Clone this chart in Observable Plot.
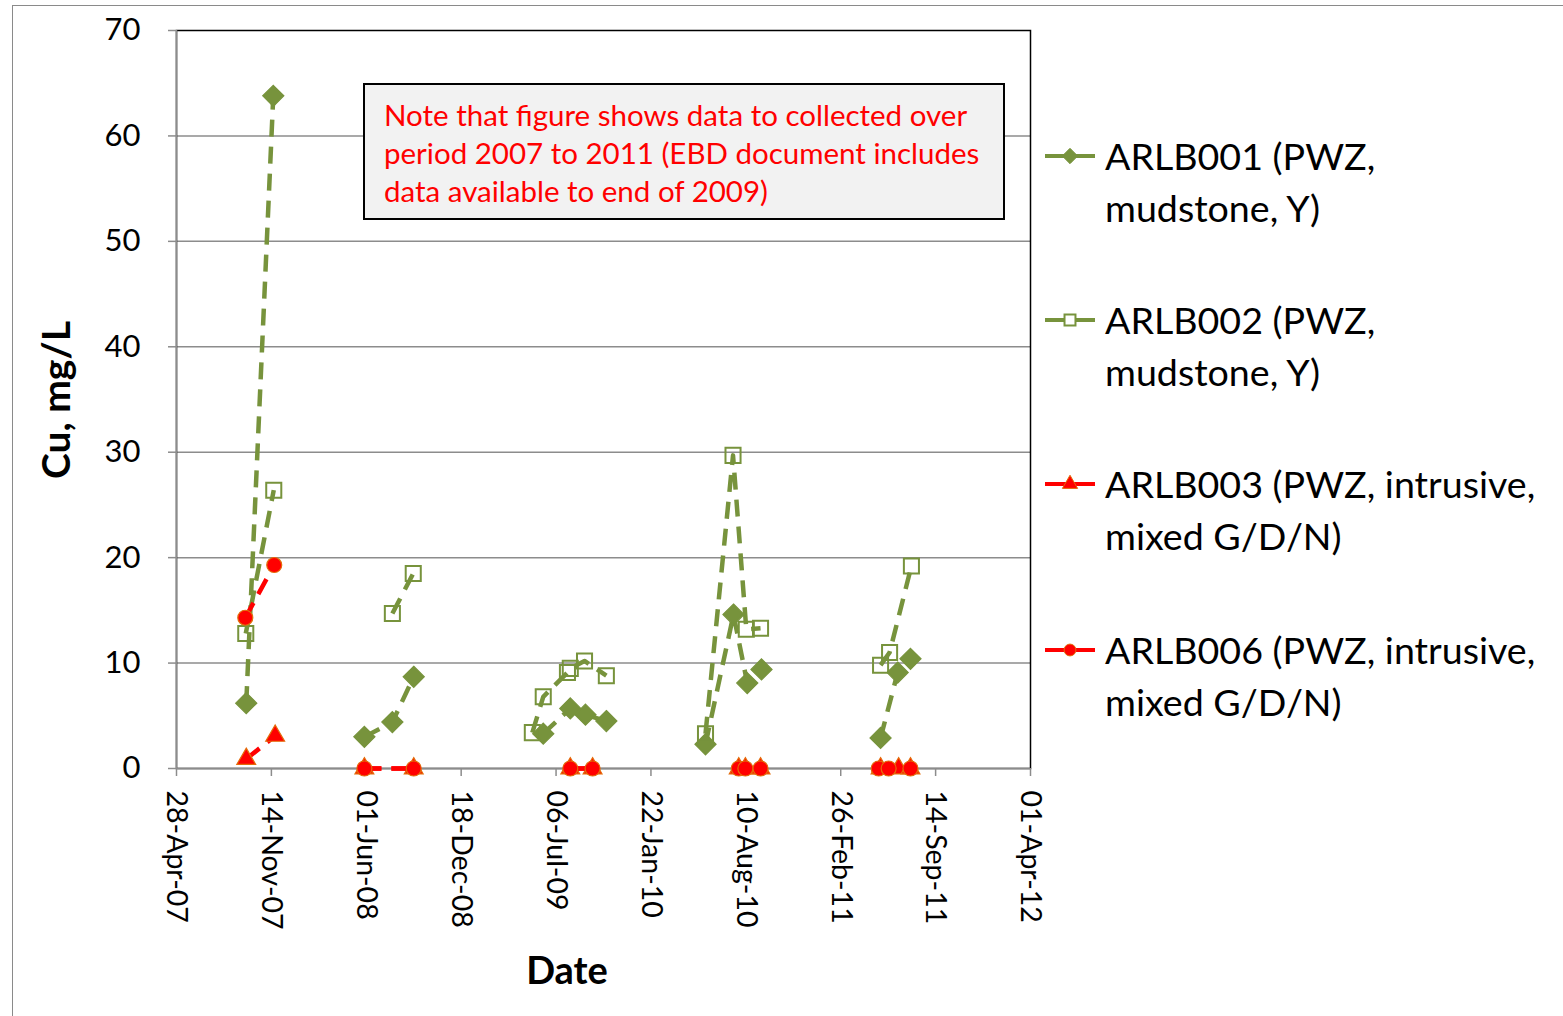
<!DOCTYPE html>
<html>
<head>
<meta charset="utf-8">
<script src="https://cdn.jsdelivr.net/npm/d3@7"></script>
<script src="https://cdn.jsdelivr.net/npm/@observablehq/plot@0.6"></script>
<style>
  html, body { margin: 0; padding: 0; background: #fff; }
  body { width: 1563px; height: 1016px; position: relative; overflow: hidden; font-family: Lato, "Open Sans", sans-serif; }
  #outer { position: absolute; left: 12px; top: 5px; width: 1600px; height: 1100px; border-left: 1.5px solid #8a8a8a; border-top: 1.5px solid #8a8a8a; }
  #chart { position: absolute; left: 0; top: 0; }
  .note { position: absolute; left: 363px; top: 83px; width: 642px; height: 137px; box-sizing: border-box;
          background: #f2f2f2; border: 2px solid #000; color: #ff0000; font-size: 29.5px; line-height: 38px;
          padding: 11px 0 0 19px; white-space: nowrap; }
  .ytitle { position: absolute; left: 55px; top: 400px; transform: translate(-50%, -50%) rotate(-90deg);
            font-weight: bold; font-size: 39px; white-space: nowrap; color: #000; }
  .xtitle { position: absolute; left: 567px; top: 969px; transform: translate(-50%, -50%);
            font-weight: bold; font-size: 38px; color: #000; }
  .legend { position: absolute; left: 1042px; top: 0; }
  .item { position: absolute; left: 0; width: 520px; }
  .item svg { position: absolute; left: 0; top: 0; }
  .item .lab { position: absolute; left: 63px; top: 0; font-size: 37.6px; line-height: 52px; color: #000; white-space: nowrap; }
</style>
</head>
<body>
<div id="outer"></div>
<div id="chart"></div>
<div class="note" id="note"></div>
<div class="ytitle" id="ytitle"></div>
<div class="xtitle" id="xtitle"></div>
<div class="legend" id="legend"></div>
<script>
// ---- data ----
const seriesNames = ["ARLB001", "ARLB002", "ARLB003", "ARLB006"];
const legendLabels = [
  ["ARLB001 (PWZ,", "mudstone, Y)"],
  ["ARLB002 (PWZ,", "mudstone, Y)"],
  ["ARLB003 (PWZ, intrusive,", "mixed G/D/N)"],
  ["ARLB006 (PWZ, intrusive,", "mixed G/D/N)"]
];
const arlb001Dates = ["2007-09-22","2007-11-18","2008-05-28","2008-07-26","2008-09-09","2009-06-09","2009-08-05","2009-09-06","2009-10-20","2010-05-17","2010-07-15","2010-08-13","2010-09-12","2011-05-21","2011-06-26","2011-07-23"];
const arlb001Values = [6.2, 63.8, 3.0, 4.4, 8.7, 3.3, 5.7, 5.1, 4.5, 2.3, 14.6, 8.1, 9.4, 2.9, 9.1, 10.4];
const arlb002Dates = ["2007-09-21","2007-11-19","2008-07-26","2008-09-08","2009-05-17","2009-06-09","2009-07-30","2009-08-05","2009-09-04","2009-10-20","2010-05-17","2010-07-14","2010-08-11","2010-09-10","2011-05-21","2011-06-09","2011-07-25"];
const arlb002Values = [12.8, 26.4, 14.7, 18.5, 3.4, 6.8, 9.1, 9.5, 10.2, 8.8, 3.3, 29.7, 13.2, 13.3, 9.8, 11.0, 19.2];
const arlb003Dates = ["2007-09-22","2007-11-22","2008-05-28","2008-09-09","2009-08-05","2009-09-21","2010-07-26","2010-08-09","2010-09-10","2011-05-21","2011-06-28","2011-07-23"];
const arlb003Values = [0.9, 3.1, 0, 0, 0, 0, 0, 0, 0, 0, 0, 0];
const arlb006Dates = ["2007-09-20","2007-11-20","2008-05-28","2008-09-09","2009-08-05","2009-09-21","2010-07-26","2010-08-09","2010-09-10","2011-05-17","2011-06-07","2011-07-23"];
const arlb006Values = [14.3, 19.3, 0, 0, 0, 0, 0, 0, 0, 0, 0, 0];
const xTickDates = ["2007-04-28","2007-11-14","2008-06-01","2008-12-18","2009-07-06","2010-01-22","2010-08-10","2011-02-26","2011-09-14","2012-04-01"];
const yTicks = [0, 10, 20, 30, 40, 50, 60, 70];
const noteLines = ["Note that figure shows data to collected over", "period 2007 to 2011 (EBD document includes", "data available to end of 2009)"];
const xTitle = "Date";
const yTitle = "Cu, mg/L";

// ---- styles ----
const GREEN = "#77933c";
const RED = "#ff0000";
const ORANGE = "#e46c0a";
const styles = {
  ARLB001: {stroke: GREEN, symbol: "diamond2", r: 9.5, fill: GREEN, mstroke: GREEN},
  ARLB002: {stroke: GREEN, symbol: "square", r: 8.5, fill: "none", mstroke: GREEN},
  ARLB003: {stroke: RED, symbol: "triangle", r: 7, fill: RED, mstroke: ORANGE},
  ARLB006: {stroke: RED, symbol: "circle", r: 7.5, fill: RED, mstroke: ORANGE}
};
const parse = d3.utcParse("%Y-%m-%d");
const build = (name, ds, vs) => ds.map((d, i) => ({series: name, date: parse(d), value: vs[i], grp: name + parse(d).getUTCFullYear()}));
const tables = {
  ARLB001: build("ARLB001", arlb001Dates, arlb001Values),
  ARLB002: build("ARLB002", arlb002Dates, arlb002Values),
  ARLB003: build("ARLB003", arlb003Dates, arlb003Values),
  ARLB006: build("ARLB006", arlb006Dates, arlb006Values)
};
const ticks = xTickDates.map(parse);
const fmt = d3.utcFormat("%d-%b-%y");

const marks = [
  Plot.ruleY(yTicks.filter(v => v > 0 && v < 70), {stroke: "#8c8c8c", strokeWidth: 1.5}),
  Plot.frame({stroke: "#000", strokeWidth: 1.5}),
  Plot.ruleY([0], {stroke: "#8c8c8c", strokeWidth: 1.5}),
  Plot.ruleX([ticks[0]], {stroke: "#8c8c8c", strokeWidth: 1.5}),
  Plot.axisY({ticks: yTicks, tickSize: 8, tickPadding: 28, fontSize: 31, stroke: "#8c8c8c", strokeWidth: 1.5, fill: "#000", label: null}),
  Plot.axisX({ticks: ticks, tickFormat: fmt, tickRotate: 90, tickSize: 8, tickPadding: 14, fontSize: 28.5, stroke: "#8c8c8c", strokeWidth: 1.5, fill: "#000", label: null})
];
for (const name of seriesNames) {
  const s = styles[name];
  marks.push(Plot.line(tables[name], {x: "date", y: "value", z: "grp", stroke: s.stroke, strokeWidth: 4.5, strokeDasharray: "17,10", strokeLinecap: "butt"}));
  marks.push(Plot.dot(tables[name], {x: "date", y: "value", symbol: () => s.symbol, r: s.r, fill: s.fill, stroke: s.mstroke, strokeWidth: name === "ARLB002" ? 2 : 1.2}));
}

const chart = Plot.plot({
  width: 1563,
  height: 1016,
  marginLeft: 176,
  marginRight: 533,
  marginTop: 30,
  marginBottom: 248,
  style: {fontFamily: "Lato, 'Open Sans', sans-serif", background: "transparent", overflow: "visible"},
  x: {type: "utc", domain: [ticks[0], ticks[ticks.length - 1]]},
  y: {domain: [0, 70]},
  symbol: {type: "identity"},
  marks
});
document.getElementById("chart").appendChild(chart);

document.getElementById("note").innerHTML = noteLines.join("<br>");
document.getElementById("ytitle").textContent = yTitle;
document.getElementById("xtitle").textContent = xTitle;

// legend
const legendTops = [130, 294, 458, 624];
const legend = document.getElementById("legend");
seriesNames.forEach((name, i) => {
  const s = styles[name];
  const item = document.createElement("div");
  item.className = "item";
  item.style.top = legendTops[i] + "px";
  const sym = d3.symbol(s.symbol === "diamond2" ? d3.symbolDiamond2 : s.symbol === "square" ? d3.symbolSquare : s.symbol === "triangle" ? d3.symbolTriangle : d3.symbolCircle, s.symbol === "circle" ? 110 : s.symbol === "square" ? 120 : s.symbol === "triangle" ? 100 : 150)();
  item.innerHTML = `<svg width="60" height="52"><line x1="3" x2="53" y1="26" y2="26" stroke="${s.stroke}" stroke-width="4"/>` +
    `<path d="${sym}" transform="translate(28,26)" fill="${name === "ARLB002" ? "#fff" : s.fill}" stroke="${s.mstroke}" stroke-width="${name === "ARLB002" ? 2 : 1}"/></svg>` +
    `<div class="lab">${legendLabels[i][0]}<br>${legendLabels[i][1]}</div>`;
  legend.appendChild(item);
});
</script>
</body>
</html>
